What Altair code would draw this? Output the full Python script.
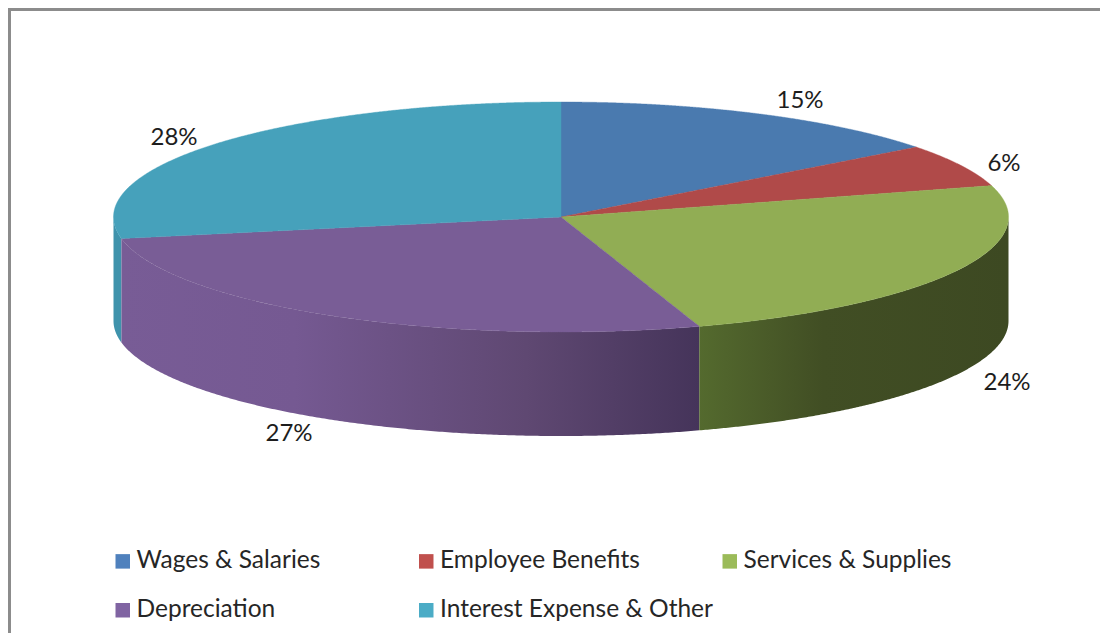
import numpy as np
import pandas as pd
import altair as alt

categories = ["Wages & Salaries", "Employee Benefits", "Services & Supplies", "Depreciation", "Interest Expense & Other"]
shares = [14.6, 6.0, 24.4, 27.0, 28.0]
colors = ["#4a7aaf", "#b04a49", "#91ad54", "#795d96", "#46a1bb"]
legend_colors = ["#4f81bd", "#c0504d", "#9bbb59", "#8064a2", "#4bacc6"]
pct_labels = ["15%", "6%", "24%", "27%", "28%"]
label_x = [800, 1004, 1007, 289, 174]
label_y = [101, 164, 383, 434, 138]

CX, CY, RX, RY, DEPTH = 561.0, 217.0, 447.5, 115.0, 104.0
W, H = 1092, 625

def ex(t):
    return CX + RX * np.sin(t)

def ey(t):
    return CY - RY * np.cos(t)

def wedge_rows(name, t0, t1):
    ts = np.linspace(t0, t1, 160)
    px = np.r_[CX, ex(ts)]
    py = np.r_[CY, ey(ts)]
    xs = np.unique(np.round(np.r_[px, np.linspace(px.min(), px.max(), 300)], 3))
    nx, ny = np.roll(px, -1), np.roll(py, -1)
    rows = []
    for x in xs:
        lo, hi = np.minimum(px, nx) - 2e-3, np.maximum(px, nx) + 2e-3
        m = (x >= lo) & (x <= hi)
        d = nx[m] - px[m]
        safe = np.where(np.abs(d) < 1e-9, 1.0, d)
        f = np.clip((x - px[m]) / safe, 0, 1)
        ys = py[m] + f * (ny[m] - py[m])
        rows.append({"cat": name, "x": float(x), "y": float(ys.min()), "y2": float(ys.max())})
    return rows

def wall_frame(t0, t1):
    ts = np.linspace(t0, t1, 260)
    return pd.DataFrame({"x": ex(ts), "y": ey(ts), "y2": ey(ts) + DEPTH})

edges = 2 * np.pi * np.cumsum([0] + shares) / sum(shares)
top_rows = []
for i, name in enumerate(categories):
    top_rows += wedge_rows(name, edges[i], edges[i + 1])
top = pd.DataFrame(top_rows)

xs = alt.Scale(domain=[8, 8 + W], range=[0, W])
ys = alt.Scale(domain=[8, 8 + H], range=[0, H])
X = alt.X("x:Q", scale=xs, axis=None)
Y = alt.Y("y:Q", scale=ys, axis=None, stack=None)


def grad(stops):
    return alt.Gradient(gradient="linear", x1=0, x2=1, y1=0, y2=0,
                        stops=[alt.GradientStop(offset=o, color=c) for o, c in stops])


def wall(t0, t1, fill):
    return alt.Chart(wall_frame(t0, t1)).mark_area(fill=fill, line=False).encode(x=X, y=Y, y2="y2:Q")


wall_teal = wall(edges[4], 3 * np.pi / 2, "#3f93ac")
wall_purple = wall(edges[3], edges[4], grad([(0, "#785c96"), (0.3, "#755992"), (0.7, "#5f4872"), (1, "#45345a")]))
wall_green = wall(np.pi / 2, edges[3], grad([(0, "#546a2e"), (0.4, "#414e24"), (1, "#3d4922")]))

pie_color = alt.Scale(domain=categories, range=colors)
tops = alt.Chart(top).mark_area(line=False, strokeWidth=0.4).encode(
    x=X,
    y=Y,
    y2="y2:Q",
    stroke=alt.Stroke("cat:N", scale=pie_color, legend=None),
    fill=alt.Fill("cat:N", scale=pie_color, legend=None),
)

labels = alt.Chart(pd.DataFrame({"x": label_x, "y": label_y, "t": pct_labels})).mark_text(
    font="Lato", fontSize=24, color="#1d1d1d"
).encode(x=X, y=Y, text="t:N")

legend_layer = alt.Chart(pd.DataFrame({"cat": categories, "v": shares})).mark_square(size=0, filled=True).encode(
    color=alt.Color(
        "cat:N",
        scale=alt.Scale(domain=categories, range=legend_colors),
        legend=alt.Legend(
            title=None, orient="none", legendX=102.5, legendY=541, columns=3, direction="horizontal",
            symbolType="square", symbolSize=210, symbolStrokeWidth=0, symbolOpacity=1,
            labelFont="Lato", labelFontSize=24.5, labelColor="#262626", labelLimit=400,
            labelOffset=1.5, gridAlign="all", columnPadding=4.5, rowPadding=24,
        ),
    )
)

border_top = alt.Chart(pd.DataFrame({"x": [8], "x2": [8 + W]})).mark_rule(color="#8c8c8c", strokeWidth=3).encode(
    x=X, x2="x2:Q", y=alt.value(1.5))
border_left = alt.Chart(pd.DataFrame({"y": [8], "y2": [8 + H]})).mark_rule(color="#8c8c8c", strokeWidth=3).encode(
    y=Y, y2="y2:Q", x=alt.value(1.5))

chart = alt.layer(
    border_top, border_left, wall_teal, wall_purple, wall_green, tops, labels, legend_layer
).resolve_scale(color="independent", fill="independent", stroke="independent").properties(
    width=W, height=H, padding=0, autosize=alt.AutoSizeParams(type="none"), background="white"
).configure_view(stroke=None)

chart.save("out.html", embed_options={"renderer": "svg", "actions": False})
